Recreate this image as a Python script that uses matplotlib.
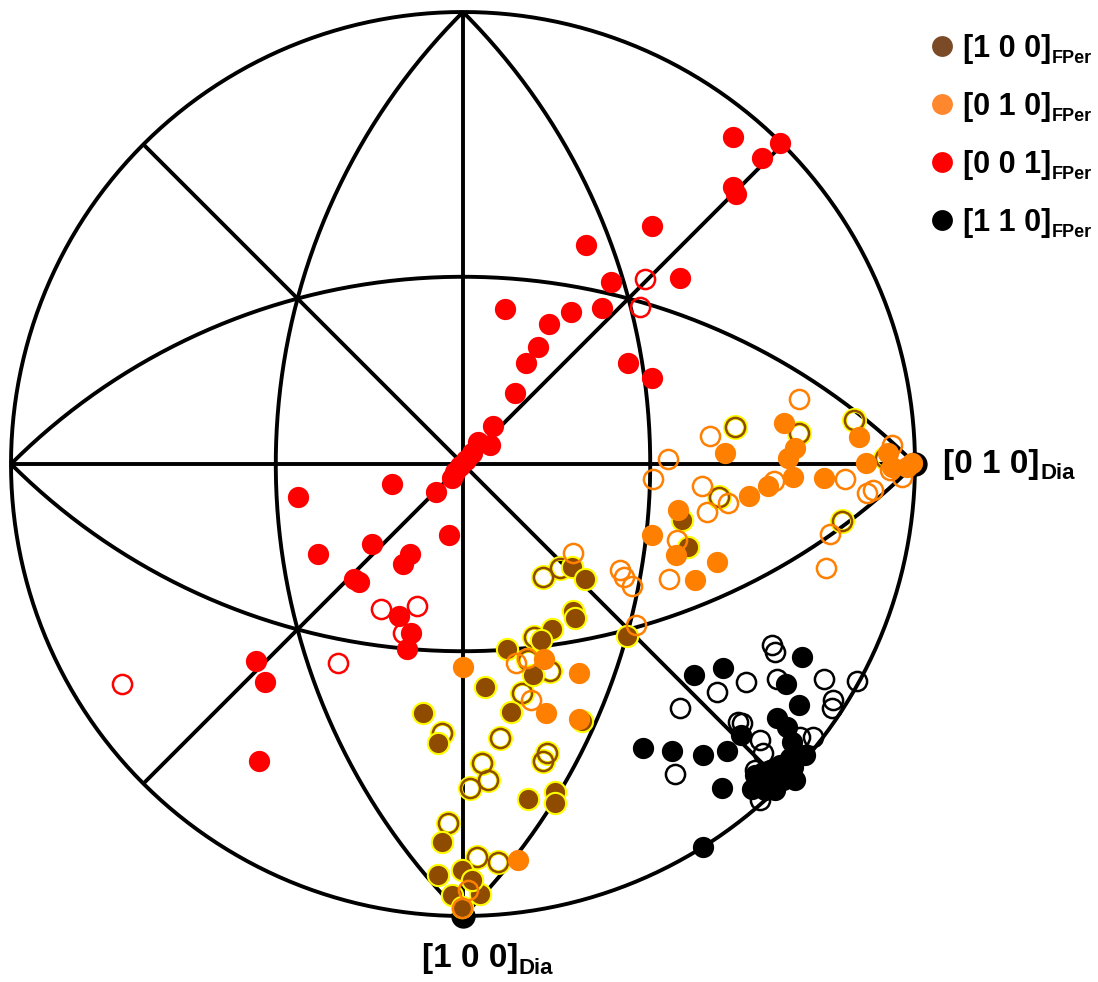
import numpy as np
import matplotlib
matplotlib.use("Agg")
import matplotlib.pyplot as plt

# ---------------------------------------------------------------------------
# Stereographic pole positions (primitive circle radius = 1, centre = 0,0)
# ---------------------------------------------------------------------------

# [0 0 1]_FPer poles
fper001_solid = np.array([
    (0.597, 0.723), (0.701, 0.710), (0.662, 0.677), (0.597, 0.613), (0.604, 0.597),
    (0.418, 0.527), (0.272, 0.485), (0.327, 0.403), (0.480, 0.412), (0.093, 0.343),
    (0.239, 0.336), (0.308, 0.345), (0.190, 0.310), (0.166, 0.259), (0.139, 0.223),
    (0.365, 0.223), (0.418, 0.190), (0.115, 0.157), (0.066, 0.084), (0.033, 0.049),
    (0.060, 0.042), (0.020, 0.024), (0.007, 0.009), (-0.007, -0.004), (-0.018, -0.018),
    (-0.024, -0.031), (-0.157, -0.044), (-0.060, -0.062), (-0.365, -0.073), (-0.321, -0.199),
    (-0.201, -0.177), (-0.031, -0.157), (-0.117, -0.199), (-0.133, -0.221), (-0.241, -0.254),
    (-0.230, -0.261), (-0.142, -0.336), (-0.115, -0.374), (-0.124, -0.409), (-0.458, -0.436),
    (-0.438, -0.482), (-0.451, -0.657),
])
fper001_open = np.array([
    (0.403, 0.409), (0.392, 0.347), (-0.181, -0.321), (-0.102, -0.314), (-0.133, -0.374),
    (-0.277, -0.440), (-0.754, -0.487),
])

# [0 1 0]_FPer poles
fper010_solid = np.array([
    (0.710, 0.091), (0.876, 0.060), (0.580, 0.024), (0.735, 0.035), (0.719, 0.013),
    (0.730, -0.029), (0.892, 0.002), (0.940, 0.024), (0.949, -0.007), (0.993, 0.002),
    (0.982, -0.007), (0.799, -0.031), (0.675, -0.049), (0.633, -0.071), (0.476, -0.102),
    (0.418, -0.157), (0.471, -0.201), (0.562, -0.217), (0.513, -0.257), (0.000, -0.449),
    (0.179, -0.431), (0.257, -0.462), (0.184, -0.551), (0.257, -0.564), (0.122, -0.876),
])
fper010_open = np.array([
    (0.743, 0.144), (0.546, 0.062), (0.454, 0.011), (0.420, -0.033), (0.529, -0.049),
    (0.586, -0.086), (0.540, -0.106), (0.688, -0.038), (0.845, -0.033), (0.949, 0.042),
    (0.971, -0.029), (0.945, -0.013), (0.894, -0.064), (0.907, -0.058), (0.812, -0.155),
    (0.473, -0.168), (0.803, -0.230), (0.456, -0.254), (0.347, -0.235), (0.356, -0.250),
    (0.374, -0.270), (0.243, -0.197), (0.383, -0.356), (0.117, -0.440), (0.142, -0.429),
    (0.150, -0.522), (0.011, -0.942), (-0.002, -0.982),
])

# [1 0 0]_FPer poles
fper100_solid = np.array([
    (0.485, -0.124), (0.498, -0.184), (0.241, -0.228), (0.270, -0.254), (0.243, -0.325),
    (0.248, -0.341), (0.197, -0.365), (0.173, -0.389), (0.097, -0.409), (0.363, -0.381),
    (0.155, -0.467), (0.049, -0.493), (-0.088, -0.551), (0.106, -0.549), (-0.055, -0.617),
    (0.263, -0.569), (0.144, -0.741), (0.204, -0.726), (0.204, -0.750), (-0.046, -0.836),
    (-0.055, -0.909), (-0.002, -0.898), (-0.024, -0.954), (0.038, -0.951), (-0.002, -0.980),
    (0.020, -0.920),
])
fper100_open = np.array([
    (0.602, 0.082), (0.743, 0.069), (0.865, 0.097), (0.566, -0.073), (0.838, -0.126),
    (0.934, 0.013), (0.177, -0.250), (0.215, -0.230), (0.157, -0.383), (0.144, -0.434),
    (0.192, -0.458), (0.131, -0.507), (-0.046, -0.595), (0.082, -0.606), (0.042, -0.662),
    (0.055, -0.699), (0.015, -0.717), (0.186, -0.639), (0.177, -0.657), (-0.033, -0.794),
    (0.031, -0.869), (0.077, -0.881),
])

# [1 1 0]_FPer poles
fper110_solid = np.array([
    (0.750, -0.427), (0.511, -0.467), (0.575, -0.451), (0.715, -0.487), (0.743, -0.533),
    (0.695, -0.562), (0.717, -0.582), (0.728, -0.615), (0.757, -0.644), (0.615, -0.600),
    (0.398, -0.628), (0.462, -0.635), (0.531, -0.644), (0.584, -0.635), (0.573, -0.717),
    (0.639, -0.719), (0.664, -0.681), (0.695, -0.692), (0.717, -0.684), (0.684, -0.715),
    (0.708, -0.699), (0.730, -0.670), (0.675, -0.695), (0.531, -0.847),
    (0.679, -0.677), (0.701, -0.666), (0.723, -0.650), (0.657, -0.699), (0.690, -0.721),
    (0.668, -0.721), (0.646, -0.688), (0.735, -0.699),
])
fper110_open = np.array([
    (0.684, -0.400), (0.690, -0.416), (0.799, -0.476), (0.872, -0.480), (0.626, -0.482),
    (0.695, -0.476), (0.562, -0.504), (0.480, -0.540), (0.819, -0.522), (0.816, -0.540),
    (0.608, -0.571), (0.617, -0.573), (0.657, -0.611), (0.664, -0.639), (0.746, -0.604),
    (0.774, -0.604), (0.469, -0.686), (0.657, -0.743), (0.646, -0.677),
])

# Diamond reference axes
dia_axes = np.array([(0.0, -1.0), (1.0, 0.0)])
dia_labels = ["[1 0 0]", "[0 1 0]"]

legend_labels = ["[1 0 0]", "[0 1 0]", "[0 0 1]", "[1 1 0]"]
legend_sub = "FPer"

BROWN = "#8F4B00"
ORANGE = "#FF8000"
RED = "#FF0000"
BLACK = "#000000"
YELLOW = "#FFFF00"
legend_colors = ["#7B4A26", "#FF872D", RED, BLACK]

FONT = "Liberation Sans"

# ---------------------------------------------------------------------------
fig = plt.figure(figsize=(10.98, 9.82), dpi=100)
ax = fig.add_axes([0, 0, 1, 1])
ax.set_xlim(-463 / 452, 635 / 452)
ax.set_ylim(-518 / 452, 464 / 452)
ax.axis("off")

# Wulff net: primitive, axes, diagonals and the four {110} great circles
lw = 2.8
kw = dict(color="black", lw=lw, solid_capstyle="butt", zorder=1)
th = np.linspace(0, 2 * np.pi, 721)
ax.plot(np.cos(th), np.sin(th), **kw)
ax.plot([-1, 1], [0, 0], **kw)
ax.plot([0, 0], [-1, 1], **kw)
d = np.sqrt(0.5)
ax.plot([-d, d], [-d, d], **kw)
ax.plot([-d, d], [d, -d], **kw)
r2 = np.sqrt(2.0)
t = np.linspace(-np.pi / 4, np.pi / 4, 300)
ax.plot(-1 + r2 * np.cos(t), r2 * np.sin(t), **kw)
ax.plot(1 - r2 * np.cos(t), r2 * np.sin(t), **kw)
ax.plot(r2 * np.sin(t), -1 + r2 * np.cos(t), **kw)
ax.plot(r2 * np.sin(t), 1 - r2 * np.cos(t), **kw)

# Diamond axis poles
ax.plot(dia_axes[:, 0], dia_axes[:, 1], "o", ms=17.5, mfc=BLACK, mec=BLACK, mew=0, zorder=2)

MS = 15.3      # solid marker diameter (pt)
MO = 13.8      # open marker diameter (pt)


def solid(pts, color, z, edge=None, ew=0.0):
    ax.plot(pts[:, 0], pts[:, 1], "o", ls="none", ms=MS, mfc=color,
            mec=edge if edge else color, mew=ew, zorder=z)


def hollow(pts, color, z, outline=None):
    if outline:
        ax.plot(pts[:, 0], pts[:, 1], "o", ls="none", ms=MO + 0.6, mfc="none",
                mec=outline, mew=3.6, zorder=z)
    ax.plot(pts[:, 0], pts[:, 1], "o", ls="none", ms=MO, mfc="none",
            mec=color, mew=1.8, zorder=z + 0.1)


hollow(fper100_open, BROWN, 3, outline=YELLOW)
solid(fper100_solid, BROWN, 4, edge=YELLOW, ew=1.5)
solid(fper010_solid, ORANGE, 5)
hollow(fper010_open, ORANGE, 6)
solid(fper001_solid, RED, 7)
hollow(fper001_open, RED, 8)
hollow(fper110_open, BLACK, 9)
solid(fper110_solid, BLACK, 10)


def sub_label(x, y, main, sub, size, subsize, transform):
    txt = ax.text(x, y, main, transform=transform, fontsize=size, fontweight="bold",
                  family=FONT, ha="left", va="center", zorder=20)
    ax.annotate(sub, xy=(1.0, 0.0), xycoords=txt, xytext=(0.5, 0.5),
                textcoords="offset points", fontsize=subsize, fontweight="bold",
                family=FONT, ha="left", va="baseline", zorder=20)


# Diamond axis labels
sub_label(1.062, 0.0, dia_labels[1], "Dia", 24, 16, ax.transData)
sub_label(-0.091, -1.095, dia_labels[0], "Dia", 24, 16, ax.transData)

# Legend
lx, ly0, step = 942 / 1098, 1 - 46 / 982, 58 / 982
for i, (lab, col) in enumerate(zip(legend_labels, legend_colors)):
    y = ly0 - i * step
    ax.plot([lx], [y], "o", ms=15, mfc=col, mec=col, mew=0,
            transform=ax.transAxes, clip_on=False, zorder=20)
    sub_label(963 / 1098, y - 3 / 982, lab, legend_sub, 22, 13, ax.transAxes)

fig.savefig("out.png", dpi=100)
